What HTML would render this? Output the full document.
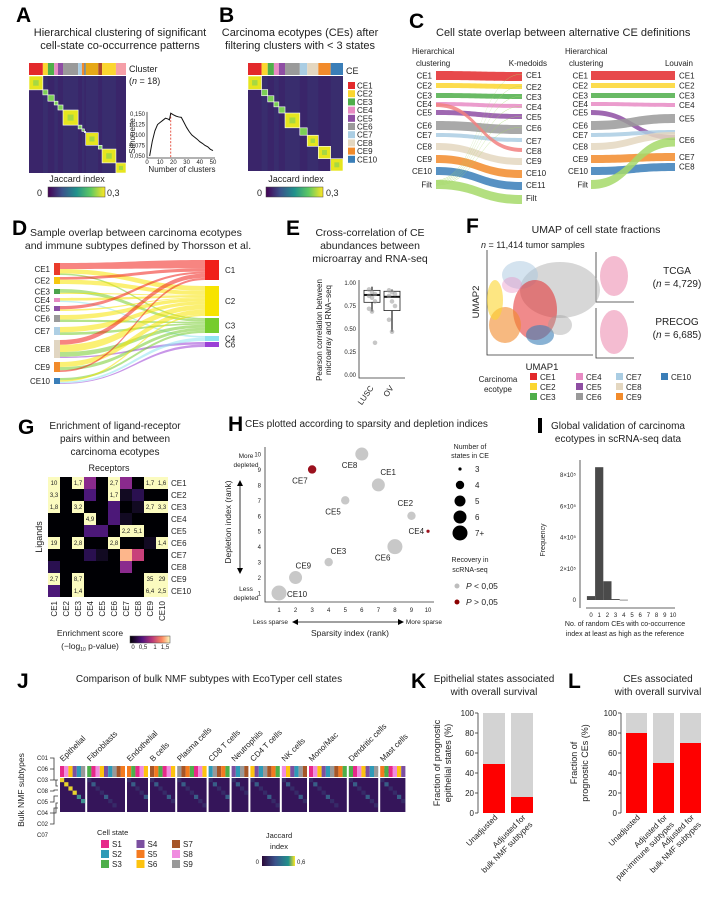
<!DOCTYPE html>
<html><head><meta charset="utf-8">
<style>
html,body{margin:0;padding:0;background:#fff;}
svg{display:block;font-family:"Liberation Sans",Arial,sans-serif;}
.pl{font-weight:bold;font-size:21px;}
.tt{font-size:11px;fill:#222;}
.sm{font-size:8px;fill:#222;}
.xs{font-size:6px;fill:#222;}
.ax{stroke:#333;stroke-width:0.8;fill:none;}
</style></head>
<body>
<svg id="fig" width="720" height="922" viewBox="0 0 720 922">
<!-- Panel A -->
<g id="pA">
<text class="pl" x="16" y="22">A</text>
<text class="tt" x="120" y="36" text-anchor="middle">Hierarchical clustering of significant</text>
<text class="tt" x="120" y="49" text-anchor="middle">cell-state co-occurrence patterns</text>
<text class="sm" x="129" y="72" style="font-size:9px">Cluster</text>
<text class="sm" x="129" y="84" style="font-size:9px">(<tspan font-style="italic">n</tspan> = 18)</text>
<text class="sm" x="77" y="182" text-anchor="middle" style="font-size:9px">Jaccard index</text>
<text class="sm" x="42" y="196" text-anchor="end" style="font-size:9px">0</text>
<text class="sm" x="107" y="196" style="font-size:9px">0,3</text>
<text class="xs" x="182" y="172" text-anchor="middle" style="font-size:8px">Number of clusters</text>
<text class="xs" x="135" y="136" text-anchor="middle" transform="rotate(-90 135 136)" style="font-size:8px">Silhouette</text>
</g>
<!-- Panel B -->
<g id="pB">
<text class="pl" x="219" y="22">B</text>
<text class="tt" x="300" y="36" text-anchor="middle">Carcinoma ecotypes (CEs) after</text>
<text class="tt" x="300" y="49" text-anchor="middle">filtering clusters with &lt; 3 states</text>
<text class="sm" x="346" y="74" style="font-size:9px">CE</text>
<text class="sm" x="296" y="182" text-anchor="middle" style="font-size:9px">Jaccard index</text>
<text class="sm" x="262" y="196" text-anchor="end" style="font-size:9px">0</text>
<text class="sm" x="326" y="196" style="font-size:9px">0,3</text>
</g>
<!-- Panel C -->
<g id="pC">
<text class="pl" x="409" y="28">C</text>
<text class="tt" x="436" y="36">Cell state overlap between alternative CE definitions</text>
<text class="sm" x="412" y="54">Hierarchical</text>
<text class="sm" x="416" y="66">clustering</text>
<text class="sm" x="547" y="66" text-anchor="end">K-medoids</text>
<text class="sm" x="565" y="54">Hierarchical</text>
<text class="sm" x="569" y="66">clustering</text>
<text class="sm" x="693" y="66" text-anchor="end">Louvain</text>
</g>
<!-- Panel D -->
<g id="pD">
<text class="pl" x="12" y="235">D</text>
<text class="tt" x="30" y="236" style="font-size:10.5px">Sample overlap between carcinoma ecotypes</text>
<text class="tt" x="138" y="249" text-anchor="middle" style="font-size:10.5px">and immune subtypes defined by Thorsson et al.</text>
</g>
<!-- Panel E -->
<g id="pE">
<text class="pl" x="286" y="235">E</text>
<text class="tt" x="370" y="236" text-anchor="middle" style="font-size:10.5px">Cross-correlation of CE</text>
<text class="tt" x="370" y="249" text-anchor="middle" style="font-size:10.5px">abundances between</text>
<text class="tt" x="370" y="262" text-anchor="middle" style="font-size:10.5px">microarray and RNA-seq</text>
<text class="sm" x="322" y="330" text-anchor="middle" transform="rotate(-90 322 330)">Pearson correlation between</text>
<text class="sm" x="331" y="330" text-anchor="middle" transform="rotate(-90 331 330)">microarray and RNA−seq</text>
</g>
<!-- Panel F -->
<g id="pF">
<text class="pl" x="466" y="233">F</text>
<text class="tt" x="596" y="233" text-anchor="middle" style="font-size:10.5px">UMAP of cell state fractions</text>
<text class="sm" x="481" y="248" style="font-size:9px"><tspan font-style="italic">n</tspan> = 11,414 tumor samples</text>
<text class="sm" x="542" y="370" text-anchor="middle" style="font-size:9.5px">UMAP1</text>
<text class="sm" x="479" y="302" text-anchor="middle" transform="rotate(-90 479 302)" style="font-size:9.5px">UMAP2</text>
<text class="sm" x="677" y="274" text-anchor="middle" style="font-size:10px">TCGA</text>
<text class="sm" x="677" y="287" text-anchor="middle" style="font-size:10px">(<tspan font-style="italic">n</tspan> = 4,729)</text>
<text class="sm" x="677" y="325" text-anchor="middle" style="font-size:10px">PRECOG</text>
<text class="sm" x="677" y="338" text-anchor="middle" style="font-size:10px">(<tspan font-style="italic">n</tspan> = 6,685)</text>
<text class="sm" x="498" y="382" text-anchor="middle">Carcinoma</text>
<text class="sm" x="498" y="392" text-anchor="middle">ecotype</text>
</g>
<!-- Panel G -->
<g id="pG">
<text class="pl" x="18" y="434">G</text>
<text class="tt" x="115" y="429" text-anchor="middle" style="font-size:10px">Enrichment of ligand-receptor</text>
<text class="tt" x="115" y="442" text-anchor="middle" style="font-size:10px">pairs within and between</text>
<text class="tt" x="115" y="455" text-anchor="middle" style="font-size:10px">carcinoma ecotypes</text>
<text class="sm" x="109" y="471" text-anchor="middle" style="font-size:9px">Receptors</text>
<text class="sm" x="42" y="537" text-anchor="middle" transform="rotate(-90 42 537)" style="font-size:9px">Ligands</text>
<text class="sm" x="90" y="636" text-anchor="middle" style="font-size:8.5px">Enrichment score</text>
<text class="sm" x="90" y="649" text-anchor="middle" style="font-size:8.5px">(−log<tspan font-size="5" dy="2">10</tspan><tspan dy="-2"> p-value)</tspan></text>
<text class="xs" x="133" y="649" text-anchor="middle">0</text>
<text class="xs" x="143" y="649" text-anchor="middle">0,5</text>
<text class="xs" x="155" y="649" text-anchor="middle">1</text>
<text class="xs" x="165" y="649" text-anchor="middle">1,5</text>
</g>
<!-- Panel H -->
<g id="pH">
<text class="pl" x="228" y="431">H</text>
<text class="tt" x="245" y="427" style="font-size:10px">CEs plotted according to sparsity and depletion indices</text>
<text class="xs" x="246" y="458" text-anchor="middle" style="font-size:6.5px">More</text>
<text class="xs" x="246" y="467" text-anchor="middle" style="font-size:6.5px">depleted</text>
<text class="xs" x="246" y="591" text-anchor="middle" style="font-size:6.5px">Less</text>
<text class="xs" x="246" y="600" text-anchor="middle" style="font-size:6.5px">depleted</text>
<text class="sm" x="231" y="522" text-anchor="middle" transform="rotate(-90 231 522)" style="font-size:8.5px">Depletion index (rank)</text>
<line x1="240" y1="482" x2="240" y2="572" stroke="#000" stroke-width="0.8"/>
<path d="M237,486 L240,480 L243,486Z M237,568 L240,574 L243,568Z" fill="#000"/>
<text class="xs" x="253" y="624" style="font-size:6.5px">Less sparse</text>
<text class="xs" x="442" y="624" text-anchor="end" style="font-size:6.5px">More sparse</text>
<line x1="294" y1="622" x2="402" y2="622" stroke="#000" stroke-width="0.8"/>
<path d="M298,619 L292,622 L298,625Z M398,619 L404,622 L398,625Z" fill="#000"/>
<text class="sm" x="350" y="636" text-anchor="middle" style="font-size:8.5px">Sparsity index (rank)</text>
<text class="xs" x="470" y="449" text-anchor="middle" style="font-size:7px">Number of</text>
<text class="xs" x="470" y="458" text-anchor="middle" style="font-size:7px">states in CE</text>
<text class="xs" x="470" y="562" text-anchor="middle" style="font-size:7px">Recovery in</text>
<text class="xs" x="470" y="572" text-anchor="middle" style="font-size:7px">scRNA-seq</text>
<circle cx="457" cy="586" r="2.5" fill="#bdbdbd"/>
<text class="sm" x="466" y="589" style="font-size:8.5px"><tspan font-style="italic">P</tspan> &lt; 0,05</text>
<circle cx="457" cy="602" r="2.5" fill="#8b0000"/>
<text class="sm" x="466" y="605" style="font-size:8.5px"><tspan font-style="italic">P</tspan> &gt; 0,05</text>
</g>
<!-- Panel I -->
<g id="pI">
<rect x="538" y="418" width="4" height="15" fill="#000"/>
<text class="tt" x="618" y="429" text-anchor="middle" style="font-size:10px">Global validation of carcinoma</text>
<text class="tt" x="618" y="442" text-anchor="middle" style="font-size:10px">ecotypes in scRNA-seq data</text>
<text class="xs" x="545" y="540" text-anchor="middle" transform="rotate(-90 545 540)" style="font-size:7px">Frequency</text>
<text class="xs" x="625" y="626" text-anchor="middle" style="font-size:7px">No. of random CEs with co-occurrence</text>
<text class="xs" x="625" y="636" text-anchor="middle" style="font-size:7px">index at least as high as the reference</text>
</g>
<!-- Panel J -->
<g id="pJ">
<text class="pl" x="17" y="688">J</text>
<text class="tt" x="209" y="682" text-anchor="middle" style="font-size:10px">Comparison of bulk NMF subtypes with EcoTyper cell states</text>
<text class="sm" x="364" y="773" style="font-size:8.5px">Cell state</text>
<text class="sm" x="24" y="790" text-anchor="middle" transform="rotate(-90 24 790)" style="font-size:8.5px">Bulk NMF subtypes</text>
<text class="sm" x="97" y="835" style="font-size:7.5px">Cell state</text>
<text class="sm" x="279" y="838" text-anchor="middle" style="font-size:7.5px">Jaccard</text>
<text class="sm" x="279" y="849" text-anchor="middle" style="font-size:7.5px">index</text>
<text class="xs" x="259" y="864" text-anchor="end">0</text>
<text class="xs" x="297" y="864">0,6</text>
</g>
<!-- Panel K/L -->
<g id="pK">
<text class="pl" x="411" y="688">K</text>
<text class="tt" x="494" y="682" text-anchor="middle" style="font-size:10px">Epithelial states associated</text>
<text class="tt" x="494" y="695" text-anchor="middle" style="font-size:10px">with overall survival</text>
<text class="sm" x="440" y="763" text-anchor="middle" transform="rotate(-90 440 763)" style="font-size:9px">Fraction of prognostic</text>
<text class="sm" x="451" y="763" text-anchor="middle" transform="rotate(-90 451 763)" style="font-size:9px">epithelial states (%)</text>
</g>
<g id="pL">
<text class="pl" x="568" y="688">L</text>
<text class="tt" x="658" y="682" text-anchor="middle" style="font-size:10px">CEs associated</text>
<text class="tt" x="658" y="695" text-anchor="middle" style="font-size:10px">with overall survival</text>
<text class="sm" x="577" y="763" text-anchor="middle" transform="rotate(-90 577 763)" style="font-size:9px">Fraction of</text>
<text class="sm" x="588" y="763" text-anchor="middle" transform="rotate(-90 588 763)" style="font-size:9px">prognostic CEs (%)</text>
</g>
<defs>
<linearGradient id="vir" x1="0" x2="1"><stop offset="0" stop-color="#440154"/><stop offset="0.25" stop-color="#3b528b"/><stop offset="0.5" stop-color="#21918c"/><stop offset="0.75" stop-color="#5ec962"/><stop offset="1" stop-color="#fde725"/></linearGradient>
<linearGradient id="mag" x1="0" x2="1"><stop offset="0" stop-color="#000004"/><stop offset="0.3" stop-color="#51127c"/><stop offset="0.55" stop-color="#b73779"/><stop offset="0.8" stop-color="#fc8961"/><stop offset="1" stop-color="#fcfdbf"/></linearGradient>
<linearGradient id="virj" x1="0" x2="1"><stop offset="0" stop-color="#2b0a3a"/><stop offset="0.4" stop-color="#3b528b"/><stop offset="0.8" stop-color="#21918c"/><stop offset="1" stop-color="#fde725"/></linearGradient>
</defs>
</svg>
<script>
// ---------- data arrays ----------
const ceNames = ['CE1','CE2','CE3','CE4','CE5','CE6','CE7','CE8','CE9','CE10'];
const ceColors = ['#e3292b','#fbd62f','#4fae4a','#e88bc4','#8e4ea3','#9a9a9a','#aacde3','#e4d7c0','#f28b2b','#3a7eb8'];
const clusterSizes = [11,4,5,3,4,12,3,2,1,10,3,11,8];
const clusterColors = ['#e3292b','#fbd62f','#4fae4a','#e88bc4','#8e4ea3','#9a9a9a','#aacde3','#f28b2b','#3a7eb8','#e6a817','#b04a2a','#fbd62f','#f59fa8'];
const ceSizes = [11,5,5,4,5,12,6,9,10,10];
const silK = [2,4,6,8,10,12,14,16,17,18,20,22,24,26,28,30,32,34,36,38,40,42,44,46,48,50];
const silV = [0.05,0.085,0.11,0.125,0.13,0.135,0.14,0.138,0.136,0.152,0.148,0.145,0.143,0.142,0.13,0.118,0.108,0.1,0.095,0.09,0.084,0.08,0.075,0.072,0.066,0.063];
const silTicks = [0.050,0.075,0.100,0.125,0.150];
const silTickLabels = ['0,050','0,075','0,100','0,125','0,150'];
const eGroups = ['LUSC','OV'];
const eStats = [[0.69,0.79,0.87,0.92,0.96],[0.47,0.70,0.85,0.91,0.93]];
const eOutliers = [[0.35],[]];
const ePoints = [[0.93,0.9,0.88,0.86,0.84,0.8,0.72,0.69],[0.92,0.9,0.88,0.86,0.8,0.75,0.6,0.47]];
const eTicks = [0,0.25,0.5,0.75,1.0];
const eTickLabels = ['0.00','0.25','0.50','0.75','1.00'];
const gVals = [
 [2,0,2,0.6,0,2,0.55,0,2,2],[2,0,0,0.35,0,2,0.08,0.25,0,0],[2,0,2,0,0,0.3,0,0.05,2,2],[0,0,0,2,0,0.3,0.1,0,0,0],
 [0,0,0,0.3,0.35,0,2,2,0,0],[2,0,2,0,0,2,0,0,0.05,2],[0,0,0,0.2,0.05,0,1.35,0.95,0,0],[0.2,0,0,0,0,0,0.6,0,0,0],
 [2,0,2,0,0,0,0,0,2,2],[0.3,0,2,0,0,0,0,0,2,2]];
const gLabels = [
 ['10','','1,7','','','2,7','','','1,7','1,6'],['3,3','','','','','1,7','','','',''],['1,8','','3,2','','','','','','2,7','3,3'],['','','','4,9','','','','','',''],
 ['','','','','','','2,2','5,1','',''],['19','','2,8','','','2,8','','','','1,4'],['','','','','','','','','',''],['','','','','','','','','',''],
 ['2,7','','8,7','','','','','','35','29'],['','','1,4','','','','','','6,4','2,5']];
const hSparsity = [7,9,4,10,5,8,3,6,2,1];
const hDepletion = [8,6,3,5,7,4,9,10,2,1];
const hStates = [6,4,4,3,4,7,4,6,6,7];
const hSig = [true,true,true,false,true,true,false,true,true,true];
const hLegendStates = ['3','4','5','6','7+'];
const iBins = [0,1,2,3,4,5,6,7,8,9,10];
const iFreq = [25000,850000,120000,6000,1500,0,0,0,0,0,0];
const iTicks = [0,200000,400000,600000,800000];
const iTickLabels = ['0','2×10⁵','4×10⁵','6×10⁵','8×10⁵'];
const kCats = ['Unadjusted','Adjusted for|bulk NMF subtypes'];
const kVals = [49,16];
const lCats = ['Unadjusted','Adjusted for|pan-immune subtypes','Adjusted for|bulk NMF subtypes'];
const lVals = [80,50,70];
const pctTicks = [0,20,40,60,80,100];
const jGroups = ['Epithelial','Fibroblasts','Endothelial','B cells','Plasma cells','CD8 T cells','Neutrophils','CD4 T cells','NK cells','Mono/Mac','Dendritic cells','Mast cells'];
const jStates = [6,9,5,6,7,5,4,7,6,9,7,6];
const jRows = ['C01','C06','C03','C08','C05','C04','C02','C07'];
const stateColors = ['#e7298a','#2e9ab7','#4daf4a','#7b4fa0','#f47a1f','#fdc30f','#a65628','#f08be0','#999999'];
const dTargets = ['C1','C2','C3','C4','C6'];
const dFlows = [[0,0,8],[0,1,6],[0,2,2],[1,0,3],[1,1,5],[2,2,3],[2,1,1],[3,1,2],[3,3,1],[4,0,2],[4,1,1],[5,1,4],[5,2,2],[6,1,4],[6,2,2],[7,0,4],[7,1,6],[7,2,4],[7,4,1],[8,1,6],[8,2,4],[8,0,2],[9,2,3],[9,1,2],[9,3,2],[9,4,1]];
const dColors = ['#f0201a','#f5c400','#f7e300','#76cc2e','#8fe3f0','#9b40d6'];

const svg = document.getElementById('fig');
const NS = 'http://www.w3.org/2000/svg';
function mk(tag, attrs, parent){const e=document.createElementNS(NS,tag);for(const k in attrs)e.setAttribute(k,attrs[k]);(parent||svg).appendChild(e);return e;}
function txt(s, attrs, parent){const e=mk('text',attrs,parent);e.textContent=s;return e;}

// ---------- A & B heatmaps ----------
function heatmap(g, x0, y0, size, sizes, colors, prefix){
  const total = sizes.reduce((a,b)=>a+b,0), u = size/total;
  const bg = mk('rect',{x:x0,y:y0,width:size,height:size,fill:'#3d1c66'},g);
  
  
  let acc=0;
  sizes.forEach((s,i)=>{
    const st = mk('rect',{x:x0+acc*u,y:y0,width:s*u,height:size,fill:'#2c6f8e',opacity:i%2?0.22:0.12},g);
    
    
    acc+=s;
  });
  acc=0;
  sizes.forEach((s,i)=>{
    const c = mk('rect',{x:x0+acc*u,y:y0-13,width:s*u,height:12,fill:colors[i]},g);
    
    
    const b = mk('rect',{x:x0+acc*u,y:y0+acc*u,width:s*u,height:s*u,fill:s>=8?'#e6e51f':'#7ccf57',stroke:'#fff','stroke-width':0.6},g);
    
    
    if(s>=8){const inn=mk('rect',{x:x0+acc*u+s*u*0.3,y:y0+acc*u+s*u*0.3,width:s*u*0.4,height:s*u*0.4,fill:'#7dcf5a',opacity:0.6},g);
      
      }
    acc+=s;
  });
}
heatmap(document.getElementById('pA'),29,76,97,clusterSizes,clusterColors,'a');
heatmap(document.getElementById('pB'),248,76,95,ceSizes,ceColors,'b');
[['pA',48],['pB',266]].forEach(([id,x])=>{
  const r=mk('rect',{x:x,y:187,width:57,height:10,fill:'url(#vir)',stroke:'#444','stroke-width':0.5},document.getElementById(id));
  
  
});
ceNames.forEach((n,i)=>{
  const g=document.getElementById('pB');
  const r=mk('rect',{x:348,y:82+i*8.2,width:7,height:7,fill:ceColors[i]},g);
  
  
  const t=txt(n,{x:357,y:88.5+i*8.2,class:'sm','font-size':'8'},g);
  
  
});
(function(){
  const g=document.getElementById('pA');
  const sx=k=>147+k*1.32, sy=v=>156-(v-0.05)*420;
  const ax=mk('path',{d:`M147,${sy(0.155)} V158 H215`,class:'ax'},g);
  
  
  silTicks.forEach((v,i)=>{
    const t=txt(silTickLabels[i],{x:145,y:sy(v)+2,'text-anchor':'end',class:'xs','font-size':'5'},g);
    
    
  });
  [0,10,20,30,40,50].forEach(k=>{
    const t=txt(String(k),{x:sx(k),y:164,'text-anchor':'middle',class:'xs','font-size':'5.5'},g);
    
    
  });
  const vl=mk('line',{x1:sx(18),x2:sx(18),y1:sy(0.152),y2:158,stroke:'#e0301e','stroke-dasharray':'2,1.5','stroke-width':0.8},g);
  
  
  const p=mk('path',{d:silK.map((k,i)=>(i?'L':'M')+sx(k)+','+sy(silV[i])).join(' '),fill:'none',stroke:'#111','stroke-width':1},g);
  
  
})();

// ---------- C alluvials ----------
function band(g,x1,y1,x2,y2,w,color,name){
  const m=(x1+x2)/2;
  const p=mk('path',{d:`M${x1},${y1} C${m},${y1} ${m},${y2} ${x2},${y2} L${x2},${y2+w} C${m},${y2+w} ${m},${y1+w} ${x1},${y1+w}Z`,fill:color,opacity:0.85},g);
  
  
}
(function(){
  const g=document.getElementById('pC');
  const leftY=[71,83,93,102,110,121,133,143,155,167,180], leftW=[9,5,5,4,5,9,4,7,8,8,9];
  const leftN=ceNames.concat(['Filt']);
  const lc=ceColors.concat(['#a6d96a']);
  const rY=[72,84,94,104,114,125,138,148,158,170,182,195];
  const rN=['CE1','CE2','CE3','CE4','CE5','CE6','CE7','CE8','CE9','CE10','CE11','Filt'];
  const map1=[0,1,2,3,4,5,6,8,9,10,11];
  leftN.forEach((n,i)=>{
    const t=txt(n,{x:432,y:leftY[i]+leftW[i]/2+3,'text-anchor':'end',class:'sm'},g);
    
    
    band(g,436,leftY[i],522,rY[map1[i]],leftW[i],lc[i],'c1-flow');
    const t2=txt(n,{x:588,y:leftY[i]+leftW[i]/2+3,'text-anchor':'end',class:'sm'},g);
    
    
  });
  band(g,436,leftY[3]+1,522,rY[7],4,'#f28080','c1-flow-minor');
  for(let k=0;k<6;k++) band(g,436,leftY[10]+k,522,rY[k]+2,0.4,'#a6d96a','c1-flow-thin');
  rN.forEach((n,i)=>{
    const t=txt(n,{x:526,y:rY[i]+6,class:'sm'},g);
    
    
  });
  const lY=[71,83,93,103,114,130,153,163];
  const lW=[9,5,5,4,9,20,8,7];
  const lN=['CE1','CE2','CE3','CE4','CE5','CE6','CE7','CE8'];
  const map2=[[0,0],[1,0],[2,0],[3,0],[5,10],[4,0],[5,0],[5,4],[6,0],[7,0],[5,15]];
  leftN.forEach((n,i)=>{
    band(g,591,leftY[i],675,lY[map2[i][0]]+map2[i][1]*(map2[i][0]===5?0.5:0),leftW[i],lc[i],'c2-flow');
  });
  lN.forEach((n,i)=>{
    const t=txt(n,{x:679,y:lY[i]+lW[i]/2+3,class:'sm'},g);
    
    
  });
})();

// ---------- D alluvial ----------
(function(){
  const g=document.getElementById('pD');
  const lY=[263,277,289,298,306,315,327,340,362,378], lH=[12,7,5,4,5,7,8,18,10,6];
  const lC=['#ea3b2a','#f5c710','#4ba34b','#e58ac0','#8c4fa5','#9a9a9a','#aecfe4','#e1d6c2','#f28b2b','#3a7eb8'];
  const rY=[260,286,318,336,342], rH=[20,30,15,5,5];
  const rOff=[0,0,0,0,0], lOff=lY.map(()=>0);
  ceNames.forEach((n,i)=>{
    const t=txt(n,{x:50,y:lY[i]+lH[i]/2+3,'text-anchor':'end',class:'sm'},g);
    
    
    const r=mk('rect',{x:54,y:lY[i],width:6,height:lH[i],fill:lC[i]},g);
    
    
  });
  dFlows.forEach(([f,t,w])=>{
    const sw = lH[f]*w/ dFlows.filter(d=>d[0]===f).reduce((a,d)=>a+d[2],0);
    const tw = rH[t]*w/ dFlows.filter(d=>d[1]===t).reduce((a,d)=>a+d[2],0);
    const y1=lY[f]+lOff[f], y2=rY[t]+rOff[t];
    lOff[f]+=sw; rOff[t]+=tw;
    const p=mk('path',{d:`M60,${y1} C130,${y1} 140,${y2} 205,${y2} L205,${y2+tw} C140,${y2+tw} 130,${y1+sw} 60,${y1+sw}Z`,fill:dColors[t===4?5:t===3?4:t===2?3:t===1?2:0],opacity:0.55},g);
    
    
  });
  dTargets.forEach((n,i)=>{
    const r=mk('rect',{x:205,y:rY[i],width:14,height:rH[i],fill:[dColors[0],dColors[2],dColors[3],dColors[4],dColors[5]][i]},g);
    
    
    const t=txt(n,{x:225,y:rY[i]+rH[i]/2+3,class:'sm'},g);
    
    
  });
})();

// ---------- E box plot ----------
(function(){
  const g=document.getElementById('pE');
  const y=v=>375-v*92, xs=[372,392];
  const ax=mk('path',{d:'M359,280 V378 H405',class:'ax'},g);
  
  
  eTicks.forEach((v,i)=>{
    const t=txt(eTickLabels[i],{x:356,y:y(v)+2,'text-anchor':'end',class:'xs'},g);
    
    
  });
  eGroups.forEach((n,i)=>{
    const s=eStats[i], x=xs[i];
    const w=mk('line',{x1:x,x2:x,y1:y(s[0]),y2:y(s[4]),stroke:'#222','stroke-width':1.2},g);
    
    
    const b=mk('rect',{x:x-8,y:y(s[3]),width:16,height:y(s[1])-y(s[3]),fill:'#fff',stroke:'#222','stroke-width':0.8},g);
    
    
    const m=mk('line',{x1:x-8,x2:x+8,y1:y(s[2]),y2:y(s[2]),stroke:'#111','stroke-width':2},g);
    
    
    ePoints[i].concat(eOutliers[i]).forEach((v,j)=>{
      const c=mk('circle',{cx:x+((j%3)-1)*3,cy:y(v),r:2.3,fill:'#999',opacity:0.55},g);
      
      
    });
    const t=txt(n,{x:x+2,y:388,'text-anchor':'end',class:'sm',transform:`rotate(-55 ${x+2} 388)`},g);
    
    
  });
})();

// ---------- F UMAP ----------
(function(){
  const g=document.getElementById('pF');
  const ax=mk('path',{d:'M487,250 V355 H593 M596,252 V302 H634 M596,308 V358 H634',class:'ax'},g);
  
  
  const blobs=[[560,290,40,28,'#b0b0b0',0.5],[520,275,18,14,'#aac8e0',0.5],[535,310,22,30,'#e3292b',0.55],[505,325,16,18,'#f28b2b',0.6],[495,300,8,20,'#fbd62f',0.6],[540,335,14,10,'#3a7eb8',0.6],[560,325,12,10,'#9a9a9a',0.4],[512,285,10,8,'#e88bc4',0.4]];
  blobs.forEach(b=>{
    const e=mk('ellipse',{cx:b[0],cy:b[1],rx:b[2],ry:b[3],fill:b[4],opacity:b[5]},g);
    
    
  });
  [[614,276,14,20],[614,332,14,22]].forEach(b=>{
    const e=mk('ellipse',{cx:b[0],cy:b[1],rx:b[2],ry:b[3],fill:'#e0407a',opacity:0.35},g);
    
    
  });
  const cols=[530,576,616,661];
  ceNames.forEach((n,i)=>{
    const cx=cols[Math.floor(i/3)], cy=373+(i%3)*10;
    const r=mk('rect',{x:cx,y:cy,width:7,height:7,fill:ceColors[i]},g);
    
    
    const t=txt(n,{x:cx+10,y:cy+7,class:'sm'},g);
    
    
  });
})();

// ---------- G heatmap ----------
(function(){
  const g=document.getElementById('pG');
  const x0=48,y0=477,c=12;
  const magma=v=>v>=2?'#fbfbbf':v>1.2?'#fdb68b':v>0.85?'#c8407a':v>0.5?'#8a2a8d':v>0.28?'#4c1878':v>0.15?'#2a1050':v>0.04?'#120a22':'#000004';
  gVals.forEach((row,i)=>row.forEach((v,j)=>{
    const r=mk('rect',{x:x0+j*c,y:y0+i*c,width:c,height:c,fill:magma(v)},g);
    
    
    if(gLabels[i][j]){const t=txt(gLabels[i][j],{x:x0+j*c+c/2,y:y0+i*c+8,'text-anchor':'middle',class:'xs','font-size':'5.5'},g);
      
      }
  }));
  ceNames.forEach((n,i)=>{
    const t=txt(n,{x:x0+10*c+3,y:y0+i*c+9,class:'sm','font-size':'8.5'},g);
    
    
    const t2=txt(n,{x:x0+i*c+9,y:y0+10*c+4,'text-anchor':'end',class:'sm','font-size':'8',transform:`rotate(-90 ${x0+i*c+9} ${y0+10*c+4})`},g);
    
    
  });
  const cb=mk('rect',{x:130,y:636,width:40,height:7,fill:'url(#mag)',stroke:'#444','stroke-width':0.5},g);
  
  
})();

// ---------- H scatter ----------
(function(){
  const g=document.getElementById('pH');
  const x=v=>279+(v-1)*16.56, y=v=>593-(v-1)*15.44;
  const rad=s=>s<=3?1.6:s===4?4.2:s===5?5.5:s===6?6.5:7.5;
  const ax=mk('path',{d:`M265,447 V602 H434`,class:'ax'},g);
  
  
  for(let v=1;v<=10;v++){
    const t=txt(String(v),{x:261,y:y(v)+2.5,'text-anchor':'end',class:'xs','font-size':'7'},g);
    
    
    const t2=txt(String(v),{x:x(v),y:612,'text-anchor':'middle',class:'xs','font-size':'7'},g);
    
    
  }
  const off={CE1:[2,-10,'start'],CE2:[-14,-10,'start'],CE3:[2,-8,'start'],CE4:[-4,3,'end'],CE5:[-20,14,'start'],CE6:[-20,14,'start'],CE7:[-20,14,'start'],CE8:[-20,14,'start'],CE9:[0,-9,'start'],CE10:[8,4,'start']};
  ceNames.forEach((n,i)=>{
    const c=mk('circle',{cx:x(hSparsity[i]),cy:y(hDepletion[i]),r:rad(hStates[i]),fill:hSig[i]?'#c8c8c8':'#9b111e'},g);
    
    
    const o=off[n];
    const t=txt(n,{x:x(hSparsity[i])+o[0],y:y(hDepletion[i])+o[1],'text-anchor':o[2],class:'sm','font-size':'8.5'},g);
    
    
  });
  hLegendStates.forEach((s,i)=>{
    const c=mk('circle',{cx:460,cy:469+i*16,r:rad(i+3),fill:'#000'},g);
    
    
    const t=txt(s,{x:475,y:472+i*16,class:'sm','font-size':'8.5'},g);
    
    
  });
})();

// ---------- I histogram ----------
(function(){
  const g=document.getElementById('pI');
  const x=b=>591+b*8.2, y=v=>600-v/800000*125;
  const ax=mk('path',{d:'M580,460 V608 M586,608 H675',class:'ax'},g);
  
  
  iTicks.forEach((v,i)=>{
    const t=txt(iTickLabels[i],{x:576,y:y(v)+2,'text-anchor':'end',class:'xs','font-size':'5'},g);
    
    
  });
  iBins.forEach((b,i)=>{
    const t=txt(String(b),{x:x(b),y:617,'text-anchor':'middle',class:'xs','font-size':'7'},g);
    
    
    if(iFreq[i]>0){const r=mk('rect',{x:x(b)-4.1,y:y(iFreq[i]),width:8.2,height:Math.max(0.6,600-y(iFreq[i])),fill:'#4a4a4a'},g);
      
      }
  });
})();

// ---------- J ----------
(function(){
  const g=document.getElementById('pJ');
  let x=60; const w=4.2, y0=766;
  jRows.forEach((r,i)=>{
    const t=txt(r,{x:48,y:760+i*11,'text-anchor':'end',class:'xs','font-size':'5.5'},g);
    
    
  });
  const br=mk('path',{d:'M50,758 H54 V780 H58 M50,769 H54 M50,780 H56 V786 H58 M50,791 H54 V790 H58 M50,802 H54 V796 H58 M50,813 H56 V803 H58 M50,824 H54 V808 H58',class:'ax','stroke-width':0.5},g);
  
  
  jGroups.forEach((name,gi)=>{
    const n=jStates[gi], gw=n*w;
    for(let s=0;s<n;s++){
      const r=mk('rect',{x:x+s*w,y:y0,width:w,height:11,fill:stateColors[(s*7+gi*2)%9]},g);
      
      
    }
    const h=mk('rect',{x:x,y:y0+12,width:gw,height:34,fill:'#35155a'},g);
    
    
    for(let s=0;s<Math.min(n,7);s++){
      const d=mk('rect',{x:x+s*w,y:y0+12+s*4.2,width:w,height:4.2,fill:gi===0?(s<4?'#e8d32e':'#3e8f8f'):'#3a6f92',opacity:gi===0?1:(s%3===1?0.8:0.25)},g);
      
      
    }
    const t=txt(name,{x:x+3,y:y0-4,class:'sm','font-size':'8.5',transform:`rotate(-45 ${x+3} ${y0-4})`},g);
    
    
    x+=gw+2;
  });
  stateColors.forEach((c,i)=>{
    const cx=101+Math.floor(i/3)*35.5, cy=840+(i%3)*10;
    const r=mk('rect',{x:cx,y:cy,width:8,height:8,fill:c},g);
    
    
    const t=txt('S'+(i+1),{x:cx+11,y:cy+7,class:'sm','font-size':'7'},g);
    
    
  });
  const cb=mk('rect',{x:262,y:856,width:33,height:10,fill:'url(#virj)'},g);
  
  
})();

// ---------- K & L bars ----------
function bars(id, axX, x0s, bw, cats, vals, prefix){
  const g=document.getElementById(id);
  const y=v=>813-v;
  const ax=mk('path',{d:`M${axX},713 V813`,class:'ax'},g);
  
  
  pctTicks.forEach(v=>{
    const tk=mk('line',{x1:axX-3,x2:axX,y1:y(v),y2:y(v),stroke:'#333','stroke-width':0.8},g);
    
    
    const t=txt(String(v),{x:axX-4,y:y(v)+3,'text-anchor':'end',class:'sm','font-size':'8'},g);
    
    
  });
  cats.forEach((c,i)=>{
    const bx=x0s[i];
    const bg=mk('rect',{x:bx,y:y(100),width:bw,height:100,fill:'#d3d3d3'},g);
    
    
    const b=mk('rect',{x:bx,y:y(vals[i]),width:bw,height:vals[i],fill:'#fe0000'},g);
    
    
    c.split('|').forEach((line,k)=>{
      const lx=bx+bw/2+4+k*7, ly=818+k*7;
      const t=txt(line,{x:lx,y:ly,'text-anchor':'end',class:'sm','font-size':'9',transform:`rotate(-45 ${lx} ${ly})`},g);
      
      
    });
  });
}
bars('pK',478,[483,511],22,kCats,kVals,'k');
bars('pL',621,[626,653,680],21,lCats,lVals,'l');
</script>
</body></html>
